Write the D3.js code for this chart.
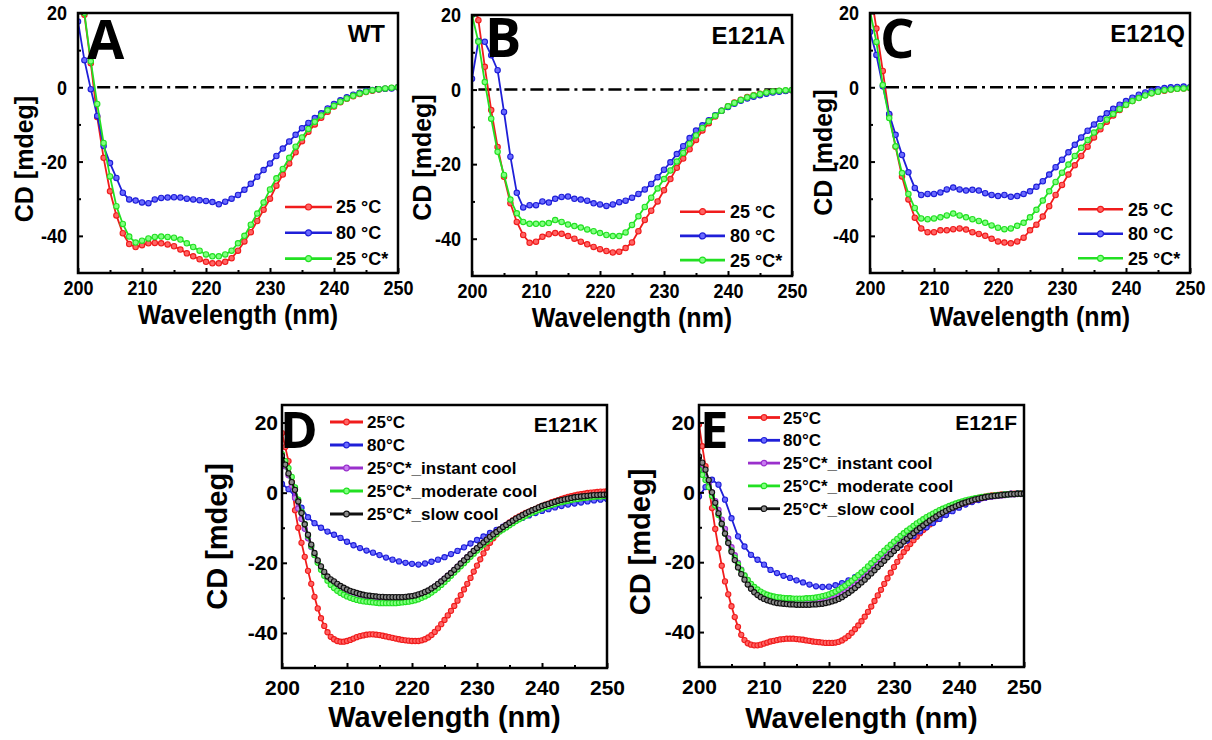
<!DOCTYPE html>
<html>
<head>
<meta charset="utf-8">
<style>
body { margin: 0; background: #fff; }
svg text { font-family: "Liberation Sans", Arial, sans-serif; font-weight: bold; }
.letter { font-family: "Open Sans", "Liberation Sans", sans-serif !important; font-weight: 700; }
</style>
</head>
<body>
<svg width="1212" height="740"></svg>
<script src="https://d3js.org/d3.v7.min.js"></script>
<script>

// wavelength grids (nm)
var wl1 = d3.range(200, 250.5, 1);      // 1 nm steps
var wl05 = d3.range(200, 250.25, 0.5);  // 0.5 nm steps

// ---- A: WT ----
var wtRed = [33, 19.5, 6.5, -8, -19, -28, -34.5, -39.3, -42.2, -43,
  -42.5, -42, -41.9, -42, -42.3, -42.8, -43.7, -44.7, -45.5, -46.3,
  -47, -47.4, -47.4, -47, -46, -44, -41.5, -39, -36, -33,
  -30, -26.5, -23.5, -20.5, -17.5, -14.5, -12, -10, -8.2, -6.6,
  -5.2, -4, -3.1, -2.4, -1.8, -1.3, -0.9, -0.6, -0.4, -0.2, 0];
var wtBlue = [17.7, 7.3, -0.5, -7.7, -15.8, -20.4, -24.4, -28.4, -30.2, -30.5,
  -31, -31.2, -30.2, -29.8, -29.7, -29.6, -29.7, -30, -30.2, -30.4,
  -30.6, -30.9, -31.5, -30.8, -30, -29, -27.6, -26, -24.1, -22.3,
  -20.5, -18.5, -16.5, -14.6, -12.8, -11, -9.6, -8.3, -7, -5.7,
  -4.5, -3.5, -2.7, -2, -1.5, -1, -0.7, -0.5, -0.4, -0.3, 0];
var wtGreen = [35, 20, 7, -4.5, -15, -24, -32, -36.8, -40.2, -41.8,
  -41.3, -40.7, -40.3, -40.2, -40.3, -40.5, -41, -42, -43, -44,
  -45, -45.5, -45.5, -45, -44, -42, -40, -37, -34, -31,
  -27.5, -24.5, -22, -19, -16, -13.5, -11.2, -9.3, -7.6, -6.2,
  -5, -3.9, -3, -2.3, -1.7, -1.2, -0.8, -0.5, -0.3, -0.1, 0];

// ---- B: E121A ----
var aRed = [26, 18.6, 6.1, -5.5, -15.4, -23.4, -30.5, -35.5, -39, -41.1,
  -40.8, -39.5, -38.8, -38.5, -38.7, -39.3, -40, -40.8, -41.5, -42.2,
  -42.8, -43.3, -43.7, -43.5, -42.5, -41, -38, -35, -32.5, -30,
  -27, -24, -21, -18.5, -16, -13.5, -11, -9, -7.2, -5.7,
  -4.5, -3.5, -2.7, -2, -1.5, -1.1, -0.8, -0.6, -0.4, -0.3, -0.2];
var aBlue = [2.9, 13, 12.8, 9.2, 5.2, -6, -18, -27.7, -31.6, -31,
  -31, -30, -30.3, -29.3, -28.8, -28.7, -29.3, -29.5, -29.8, -30.5,
  -30.8, -31.2, -30.8, -30.2, -29.8, -29, -28, -26.8, -25.3, -23.5,
  -21.5, -19.5, -17.3, -15.2, -13, -11, -9.6, -8.2, -6.9, -5.7,
  -4.7, -3.8, -3, -2.4, -1.9, -1.5, -1.1, -0.8, -0.6, -0.4, -0.2];
var aGreen = [20, 12.8, 2, -7.8, -16.7, -22.9, -29.5, -33.2, -35.5, -36,
  -36, -36, -35.8, -35, -35.5, -36.2, -36.6, -37, -37.5, -38,
  -38.5, -39, -39.3, -39.3, -38.3, -36.3, -34, -31.5, -29, -26.5,
  -24, -21.7, -19.3, -17, -14.5, -12.3, -10.3, -8.5, -7, -5.7,
  -4.5, -3.6, -2.8, -2.1, -1.6, -1.2, -0.8, -0.5, -0.3, -0.2, -0.1];

// ---- C: E121Q ----
var qRed = [27, 15.8, 4.4, -7.4, -16, -24, -30.2, -35.1, -38, -39,
  -39, -38.5, -38.5, -38.2, -38, -38.3, -39, -39.5, -40, -40.8,
  -41.5, -41.8, -42, -41.5, -40.5, -38.5, -37, -34.8, -32, -29,
  -26.3, -23.5, -21, -18.5, -16, -13.5, -11.3, -9.3, -7.6, -6.1,
  -4.8, -3.7, -2.8, -2.1, -1.6, -1.2, -0.9, -0.6, -0.4, -0.3, -0.2];
var qBlue = [14.9, 8.7, 0.3, -7.2, -12.8, -18.2, -22.9, -27.1, -29, -28.7,
  -28.7, -28.3, -27.5, -27, -27.5, -27.8, -27.6, -27.8, -28.5, -29,
  -29.3, -29, -29.5, -29.3, -28.7, -28, -26.8, -25.3, -23.5, -21.5,
  -19.5, -17.5, -15.5, -13.5, -11.7, -10, -8.5, -7, -5.8, -4.7,
  -3.7, -2.8, -2, -1.4, -0.9, -0.5, -0.2, 0, 0.1, 0.2, 0];
var qGreen = [20.5, 12.2, 0.6, -8.3, -15.9, -23.1, -28.7, -32.5, -35.3, -35.5,
  -35.3, -35, -34.5, -34, -34.5, -35, -35.5, -36, -36.5, -37.2,
  -37.8, -38.2, -38, -37.3, -36.5, -35, -33, -30.5, -28, -25.5,
  -23, -20.8, -18.5, -16.3, -14.2, -12.2, -10.4, -8.7, -7.2, -5.9,
  -4.7, -3.7, -2.9, -2.2, -1.6, -1.2, -0.8, -0.6, -0.4, -0.3, -0.2];

// ---- D: E121K ----
var kRed = [17, 13, 9, 3, -5, -10, -14.3, -18.3, -22.3, -26,
  -29.7, -33, -35.8, -38, -39.8, -41.1, -41.8, -42.3, -42.5, -42.5,
  -42.3, -42, -41.6, -41.2, -40.9, -40.7, -40.5, -40.4, -40.4, -40.5,
  -40.6, -40.8, -41, -41.2, -41.4, -41.6, -41.8, -42, -42.1, -42.2,
  -42.3, -42.3, -42.3, -42.1, -41.8, -41.3, -40.6, -39.7, -38.7, -37.5,
  -36.3, -35, -33.7, -32.3, -30.8, -29.2, -27.6, -26, -24.3, -22.5,
  -20.8, -19, -17.3, -15.7, -14.3, -13, -11.9, -10.9, -10, -9.2,
  -8.5, -7.9, -7.3, -6.8, -6.3, -5.8, -5.4, -5, -4.6, -4.2,
  -3.8, -3.4, -3.1, -2.7, -2.4, -2.1, -1.8, -1.5, -1.2, -1,
  -0.8, -0.6, -0.4, -0.3, -0.1, 0, 0.1, 0.2, 0.3, 0.3, 0.4];
var kBlue = [2.5, 1, -1, -4.3, -7, -8.7, -10, -11.1, -12, -12.9,
  -14, -15, -15.8, -16.5, -17.1, -17.8, -18.5, -19.1, -19.6, -20,
  -20.3, -20.5, -20.2, -19.7, -19.1, -18.4, -17.5, -16.6, -15.6, -14.5,
  -13.5, -12.5, -11.5, -10.6, -9.7, -8.8, -8, -7.2, -6.5, -5.8,
  -5.2, -4.7, -4.2, -3.8, -3.4, -3.1, -2.8, -2.5, -2.2, -2, -1.8];
var kPurple = [10, 7.5, 5, 2, -1.5, -4.5, -7.5, -10.3, -13, -15.5,
  -17.8, -19.8, -21.6, -23.1, -24.4, -25.5, -26.4, -27.1, -27.7, -28.2,
  -28.7, -29.1, -29.4, -29.7, -29.9, -30.1, -30.3, -30.4, -30.5, -30.6,
  -30.7, -30.7, -30.8, -30.8, -30.8, -30.8, -30.7, -30.6, -30.5, -30.3,
  -30.1, -29.8, -29.5, -29.1, -28.6, -28.1, -27.5, -26.8, -26.1, -25.3,
  -24.5, -23.7, -22.9, -22, -21.1, -20.2, -19.3, -18.4, -17.5, -16.6,
  -15.8, -15, -14.2, -13.4, -12.6, -11.9, -11.2, -10.5, -9.8, -9.2,
  -8.6, -8.1, -7.6, -7.1, -6.6, -6.1, -5.7, -5.3, -4.9, -4.5,
  -4.1, -3.8, -3.5, -3.2, -2.9, -2.6, -2.4, -2.2, -2, -1.8,
  -1.6, -1.5, -1.4, -1.3, -1.2, -1.1, -1, -0.9, -0.9, -0.8, -0.8];
var kGreen = [11, 9, 7, 4.5, 1.5, -2, -5.5, -9, -12.3, -15.2,
  -17.8, -20, -22, -23.7, -25.1, -26.3, -27.2, -28, -28.6, -29.1,
  -29.6, -30, -30.3, -30.6, -30.8, -31, -31.1, -31.2, -31.3, -31.4,
  -31.5, -31.5, -31.5, -31.5, -31.5, -31.5, -31.4, -31.3, -31.2, -31.1,
  -30.9, -30.7, -30.4, -30, -29.6, -29.1, -28.5, -27.8, -27.1, -26.3,
  -25.5, -24.6, -23.7, -22.8, -21.9, -21, -20.1, -19.2, -18.3, -17.4,
  -16.5, -15.6, -14.8, -14, -13.2, -12.5, -11.8, -11.1, -10.5, -9.9,
  -9.3, -8.7, -8.1, -7.6, -7.1, -6.6, -6.1, -5.7, -5.3, -4.9,
  -4.5, -4.1, -3.8, -3.5, -3.2, -2.9, -2.7, -2.5, -2.3, -2.1,
  -1.9, -1.8, -1.6, -1.5, -1.4, -1.3, -1.2, -1.1, -1.1, -1, -1];
var kBlack = [10.5, 8, 5.5, 3, 0.8, -2.5, -5.8, -9, -12, -14.8,
  -17.2, -19.3, -21, -22.6, -23.9, -24.7, -25.3, -26, -26.6, -27.1,
  -27.6, -28, -28.3, -28.6, -28.9, -29.1, -29.3, -29.4, -29.5, -29.6,
  -29.7, -29.7, -29.8, -29.8, -29.8, -29.8, -29.8, -29.8, -29.7, -29.6,
  -29.5, -29.3, -29, -28.7, -28.3, -27.9, -27.3, -26.7, -26, -25.3,
  -24.5, -23.7, -22.9, -22, -21.1, -20.2, -19.3, -18.4, -17.5, -16.6,
  -15.8, -15, -14.2, -13.4, -12.6, -11.9, -11.2, -10.5, -9.8, -9.2,
  -8.6, -8, -7.4, -6.9, -6.4, -5.9, -5.4, -5, -4.6, -4.2,
  -3.8, -3.5, -3.2, -2.9, -2.6, -2.3, -2.1, -1.9, -1.7, -1.5,
  -1.3, -1.2, -1.1, -1, -0.9, -0.8, -0.7, -0.7, -0.6, -0.6, -0.5];

// ---- E: E121F ----
var fRed = [19.4, 13.2, 7.5, 1.5, -4.5, -10.5, -16, -21, -25.5, -29.2,
  -32.6, -35.7, -38.5, -40.8, -42.3, -43.2, -43.6, -43.8, -43.8, -43.6,
  -43.3, -43, -42.7, -42.5, -42.3, -42.1, -42, -41.9, -41.9, -41.9,
  -42, -42.1, -42.2, -42.4, -42.5, -42.7, -42.8, -42.9, -43, -43.1,
  -43.1, -43.1, -43, -42.8, -42.4, -41.8, -41.1, -40.2, -39.2, -38.1,
  -36.9, -35.6, -34.2, -32.7, -31.1, -29.5, -27.9, -26.2, -24.6, -23,
  -21.4, -19.9, -18.4, -17.1, -16, -14.8, -13.7, -12.7, -11.7, -10.8,
  -10, -9.2, -8.4, -7.7, -7, -6.4, -5.8, -5.2, -4.7, -4.2,
  -3.7, -3.3, -2.9, -2.5, -2.2, -1.9, -1.6, -1.4, -1.2, -1,
  -0.9, -0.8, -0.7, -0.6, -0.5, -0.5, -0.4, -0.4, -0.3, -0.3, -0.3];
var fBlue = [-1.2, 1.5, 3.6, 2.2, -2.1, -7.4, -12.6, -15.5, -17.9, -19.3,
  -20.7, -22.2, -23.1, -23.9, -24.5, -25.2, -25.8, -26.4, -26.9, -27.1,
  -27, -26.6, -26, -25.2, -24.3, -23.2, -22, -20.7, -19.4, -18,
  -16.6, -15.2, -13.8, -12.5, -11.2, -10, -8.8, -7.6, -6.5, -5.4,
  -4.4, -3.5, -2.8, -2.2, -1.6, -1.2, -0.9, -0.6, -0.4, -0.3, -0.2];
var fPurple = [8, 6.5, 4.5, 2.3, 0, -2.5, -5, -7.8, -10.5, -13.2,
  -15.7, -18, -20.2, -22.1, -23.8, -25.3, -26.6, -27.6, -28.5, -29.2,
  -29.8, -30.2, -30.6, -30.9, -31.1, -31.2, -31.3, -31.4, -31.5, -31.5,
  -31.6, -31.6, -31.6, -31.6, -31.5, -31.5, -31.4, -31.3, -31.1, -30.9,
  -30.7, -30.4, -30, -29.6, -29.1, -28.5, -27.9, -27.2, -26.5, -25.7,
  -24.9, -24.1, -23.2, -22.3, -21.4, -20.5, -19.6, -18.7, -17.8, -16.9,
  -16, -15.1, -14.3, -13.5, -12.7, -11.9, -11.2, -10.5, -9.8, -9.1,
  -8.5, -7.9, -7.3, -6.7, -6.2, -5.7, -5.2, -4.8, -4.4, -4,
  -3.6, -3.3, -3, -2.7, -2.4, -2.1, -1.9, -1.7, -1.5, -1.3,
  -1.2, -1.1, -1, -0.9, -0.8, -0.7, -0.6, -0.6, -0.5, -0.5, -0.5];
var fGreen = [6.5, 5, 3.5, 1.5, -1, -3.8, -6.5, -9.2, -11.8, -14.3,
  -16.6, -18.7, -20.6, -22.3, -23.8, -25.1, -26.2, -27.1, -27.8, -28.4,
  -28.9, -29.3, -29.6, -29.8, -30, -30.1, -30.2, -30.3, -30.3, -30.4,
  -30.4, -30.4, -30.4, -30.3, -30.3, -30.2, -30.1, -29.9, -29.7, -29.5,
  -29.2, -28.8, -28.4, -27.9, -27.3, -26.7, -26, -25.3, -24.5, -23.7,
  -22.9, -22.1, -21.2, -20.3, -19.4, -18.5, -17.6, -16.7, -15.8, -15,
  -14.1, -13.3, -12.5, -11.7, -11, -10.3, -9.6, -8.9, -8.3, -7.7,
  -7.1, -6.6, -6.1, -5.6, -5.1, -4.7, -4.3, -3.9, -3.5, -3.2,
  -2.9, -2.6, -2.3, -2.1, -1.9, -1.7, -1.5, -1.3, -1.2, -1.1,
  -1, -0.9, -0.8, -0.7, -0.6, -0.6, -0.5, -0.5, -0.4, -0.4, -0.4];
var fBlack = [10.3, 8.5, 6.5, 3.5, 0, -3, -6, -9, -11.8, -14.5,
  -17, -19.4, -21.5, -23.4, -25, -26.4, -27.6, -28.6, -29.4, -30,
  -30.5, -30.9, -31.2, -31.5, -31.7, -31.8, -31.9, -32, -32.1, -32.1,
  -32.2, -32.2, -32.2, -32.2, -32.2, -32.1, -32.1, -32, -31.9, -31.7,
  -31.5, -31.2, -30.9, -30.5, -30, -29.4, -28.8, -28.1, -27.4, -26.6,
  -25.8, -25, -24.1, -23.2, -22.3, -21.4, -20.5, -19.6, -18.6, -17.7,
  -16.8, -15.9, -15, -14.1, -13.3, -12.5, -11.7, -10.9, -10.2, -9.5,
  -8.8, -8.1, -7.5, -6.9, -6.3, -5.8, -5.3, -4.8, -4.4, -4,
  -3.6, -3.2, -2.9, -2.6, -2.3, -2, -1.8, -1.6, -1.4, -1.2,
  -1.1, -1, -0.9, -0.8, -0.7, -0.6, -0.5, -0.5, -0.4, -0.4, -0.4];

var xTicks = [200, 210, 220, 230, 240, 250];
var xMinor = [205, 215, 225, 235, 245];
var yTicks = [-40, -20, 0, 20];
var yMinor = [-30, -10, 10];

var colors = {
  red:    {line: "#f01c1c", fill: "#ff6464"},
  blue:   {line: "#1f1fd8", fill: "#6a6aff"},
  green:  {line: "#22e022", fill: "#80ff80"},
  purple: {line: "#9a30cc", fill: "#c77cf0"},
  black:  {line: "#111111", fill: "#8a8a8a"}
};

var panels = [
  {letter: "A", name: "WT", left: 78, right: 398, top: 13, bottom: 273, y0: -50, y1: 20,
   zero: [203, 247.5], small: true,
   series: [["red", wl1, wtRed, "25 °C"], ["blue", wl1, wtBlue, "80 °C"], ["green", wl1, wtGreen, "25 °C*"]],
   leg: {x0: 285, x1: 332, tx: 336, y: 207, dy: 25.8},
   lx: 87, ly: 59, nx: 385, ny: 42, ty: 324, cx: 33, cy: 159},
  {letter: "B", name: "E121A", left: 472, right: 792, top: 15, bottom: 276, y0: -50, y1: 20,
   zero: [201, 248.5], small: true,
   series: [["red", wl1, aRed, "25 °C"], ["blue", wl1, aBlue, "80 °C"], ["green", wl1, aGreen, "25 °C*"]],
   leg: {x0: 680, x1: 725, tx: 730, y: 211.7, dy: 24.2},
   lx: 485, ly: 57, nx: 785, ny: 43.5, ty: 327, cx: 431, cy: 157.5},
  {letter: "C", name: "E121Q", left: 870, right: 1190, top: 13, bottom: 273, y0: -50, y1: 20,
   zero: [202.5, 245], small: true,
   series: [["red", wl1, qRed, "25 °C"], ["blue", wl1, qBlue, "80 °C"], ["green", wl1, qGreen, "25 °C*"]],
   leg: {x0: 1078, x1: 1123, tx: 1128, y: 209.3, dy: 24.5},
   lx: 880, ly: 58, nx: 1185, ny: 42, ty: 326, cx: 832, cy: 152.5},
  {letter: "D", name: "E121K", left: 282, right: 607, top: 405, bottom: 668, y0: -50, y1: 25,
   zero: null, small: false,
   series: [["red", wl05, kRed, "25°C"], ["blue", wl1, kBlue, "80°C"], ["purple", wl05, kPurple, "25°C*_instant cool"],
            ["green", wl05, kGreen, "25°C*_moderate cool"], ["black", wl05, kBlack, "25°C*_slow cool"]],
   leg: {x0: 330, x1: 363, tx: 367, y: 422, dy: 23},
   lx: 280, ly: 448, nx: 598, ny: 432, ty: 727, cx: 227, cy: 536.5},
  {letter: "E", name: "E121F", left: 699, right: 1024, top: 405, bottom: 667, y0: -50, y1: 25,
   zero: null, small: false,
   series: [["red", wl05, fRed, "25°C"], ["blue", wl1, fBlue, "80°C"], ["purple", wl05, fPurple, "25°C*_instant cool"],
            ["green", wl05, fGreen, "25°C*_moderate cool"], ["black", wl05, fBlack, "25°C*_slow cool"]],
   leg: {x0: 748, x1: 780, tx: 783, y: 417.5, dy: 22.8},
   lx: 700, ly: 448, nx: 1017, ny: 430, ty: 728, cx: 650, cy: 542}
];

var svg = d3.select("svg");
var defs = svg.append("defs");
var fmt = function(d) { return String(d); };   // plain hyphen minus

panels.forEach(function(p) {
  var tickFs = p.small ? 18 : 21,
      titleFs = p.small ? 25 : 29,
      nameFs = p.small ? 24 : 21,
      legFs = p.small ? 18 : 17,
      r = p.small ? 2.7 : 2.6,
      sy = p.small ? 1.17 : 1;   // top row text is a little taller than wide

  var x = d3.scaleLinear().domain([200, 250]).range([p.left, p.right]);
  var y = d3.scaleLinear().domain([p.y0, p.y1]).range([p.bottom, p.top]);

  defs.append("clipPath").attr("id", "clip" + p.letter)
    .append("rect")
      .attr("x", p.left).attr("y", p.top)
      .attr("width", p.right - p.left).attr("height", p.bottom - p.top);

  var g = svg.append("g");

  if (p.zero) {
    g.append("line")
      .attr("x1", x(p.zero[0])).attr("x2", x(p.zero[1]))
      .attr("y1", y(0)).attr("y2", y(0))
      .attr("stroke", "#000").attr("stroke-width", 2.4)
      .attr("stroke-dasharray", "13,5,3,5");
  }

  var plot = g.append("g").attr("clip-path", "url(#clip" + p.letter + ")");
  var line = d3.line().x(function(d) { return x(d[0]); }).y(function(d) { return y(d[1]); });

  p.series.forEach(function(s) {
    var c = colors[s[0]];
    var pts = s[1].map(function(w, i) { return [w, s[2][i]]; });
    var sg = plot.append("g");
    sg.append("path").datum(pts)
      .attr("d", line).attr("fill", "none")
      .attr("stroke", c.line).attr("stroke-width", 1.8);
    sg.selectAll("circle").data(pts).enter().append("circle")
      .attr("cx", function(d) { return x(d[0]); })
      .attr("cy", function(d) { return y(d[1]); })
      .attr("r", r)
      .attr("fill", c.fill).attr("stroke", c.line).attr("stroke-width", 1.1);
  });

  // axes, ticks pointing inward
  function style(sel, fs) {
    sel.select(".domain").remove();
    sel.selectAll("line").attr("stroke-width", 2);
    sel.attr("font-size", fs).attr("font-family", "Liberation Sans, Arial, sans-serif").attr("font-weight", "bold");
  }
  var bx = g.append("g").attr("transform", "translate(0," + p.bottom + ")")
    .call(d3.axisBottom(x).tickValues(xTicks).tickSize(-5).tickPadding(p.small ? 6 : 12).tickFormat(fmt))
    .call(style, tickFs);
  g.append("g").attr("transform", "translate(0," + p.bottom + ")")
    .call(d3.axisBottom(x).tickValues(xMinor).tickSize(-3).tickFormat(""))
    .call(style, tickFs);
  var ly = g.append("g").attr("transform", "translate(" + p.left + ",0)")
    .call(d3.axisLeft(y).tickValues(yTicks).tickSize(-5).tickPadding(p.small ? 11 : 4).tickFormat(fmt))
    .call(style, tickFs);
  g.append("g").attr("transform", "translate(" + p.left + ",0)")
    .call(d3.axisLeft(y).tickValues(yMinor).tickSize(-3).tickFormat(""))
    .call(style, tickFs);
  if (sy !== 1) {
    bx.selectAll("text").attr("transform", "scale(1," + sy + ")");
    ly.selectAll("text").attr("transform", "scale(1," + sy + ")");
  }

  g.append("rect")
    .attr("x", p.left).attr("y", p.top)
    .attr("width", p.right - p.left).attr("height", p.bottom - p.top)
    .attr("fill", "none").attr("stroke", "#000").attr("stroke-width", 2.5);

  // titles
  g.append("text")
    .attr("transform", "translate(" + ((p.left + p.right) / 2) + "," + p.ty + ") scale(1," + (p.small ? 1.1 : 1) + ")")
    .attr("text-anchor", "middle").attr("font-size", titleFs)
    .text("Wavelength (nm)");
  g.append("text")
    .attr("transform", "translate(" + p.cx + "," + p.cy + ") rotate(-90)")
    .attr("text-anchor", "middle").attr("font-size", titleFs)
    .text("CD [mdeg]");

  g.append("text").attr("class", "letter")
    .attr("x", p.lx).attr("y", p.ly)
    .attr("font-size", p.small ? 54 : 51)
    .text(p.letter);
  g.append("text")
    .attr("x", p.nx).attr("y", p.ny)
    .attr("text-anchor", "end").attr("font-size", nameFs)
    .text(p.name);

  // legend
  var leg = g.append("g").selectAll("g").data(p.series).enter().append("g")
    .attr("transform", function(d, i) { return "translate(0," + (p.leg.y + i * p.leg.dy) + ")"; });
  leg.append("line")
    .attr("x1", p.leg.x0).attr("x2", p.leg.x1)
    .attr("stroke", function(d) { return colors[d[0]].line; })
    .attr("stroke-width", p.small ? 2.6 : 2.8);
  leg.append("circle")
    .attr("cx", (p.leg.x0 + p.leg.x1) / 2).attr("r", p.small ? 3 : 2.8)
    .attr("fill", function(d) { return colors[d[0]].fill; })
    .attr("stroke", function(d) { return colors[d[0]].line; })
    .attr("stroke-width", 1.2);
  leg.append("text")
    .attr("x", p.leg.tx).attr("dy", "0.36em")
    .attr("font-size", legFs)
    .text(function(d) { return d[3]; });
});

</script>
</body>
</html>
